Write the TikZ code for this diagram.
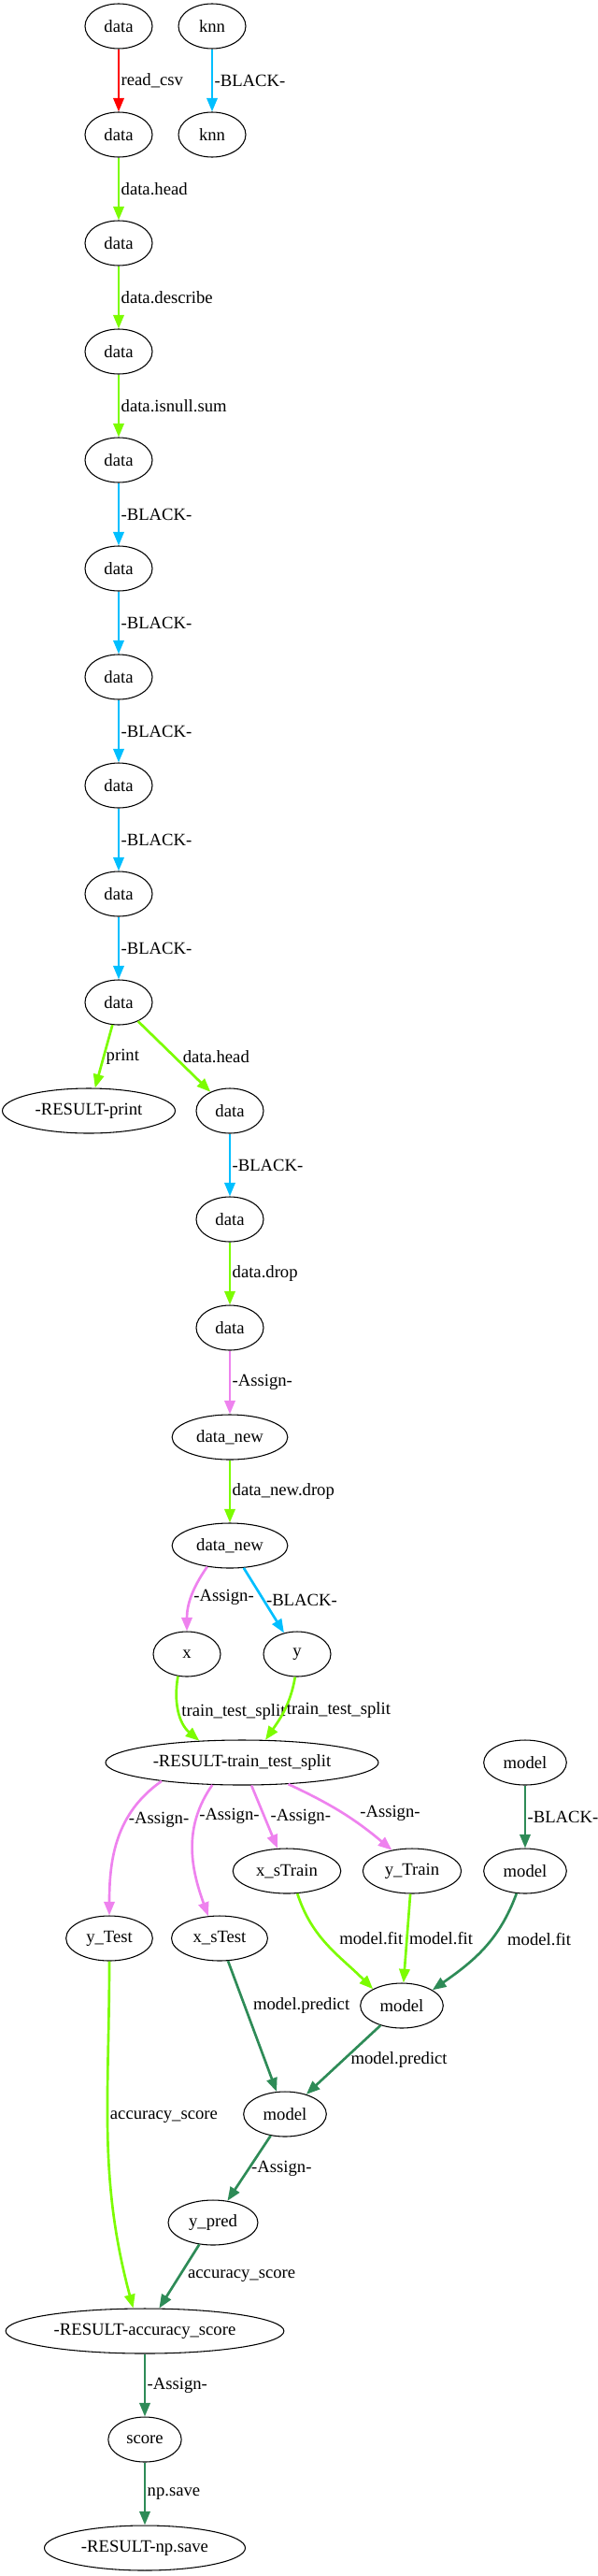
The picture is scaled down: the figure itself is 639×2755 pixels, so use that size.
\documentclass[tikz,border=0pt]{standalone}
\usepackage{fontspec}
\setmainfont{Liberation Serif}
\usetikzlibrary{arrows.meta,shapes.geometric}
\definecolor{readcol}{RGB}{255,0,0}
\definecolor{blackcol}{RGB}{0,191,255}
\definecolor{callcol}{RGB}{124,252,0}
\definecolor{assigncol}{RGB}{238,130,238}
\definecolor{modelcol}{RGB}{46,139,87}

\begin{document}
\begin{tikzpicture}[x=0.75pt, y=-0.75pt,
    every node/.style={font=\fontsize{14}{16}\selectfont},
    varnode/.style={draw, ellipse, line width=0.8pt, minimum width=54pt,
                    minimum height=36pt, inner xsep=6pt, inner ysep=0pt},
    flow/.style={line width=2pt, -{Triangle[length=11pt,width=8.5pt]}},
    lbl/.style={anchor=west, inner sep=1pt, text=black}]
  \useasboundingbox (0,0) rectangle (639,2755);

  \node[varnode] (d0) at (127,28) {data};
  \node[varnode] (k0) at (227,28) {knn};
  \node[varnode] (d1) at (127,144) {data};
  \node[varnode] (k1) at (227,144) {knn};
  \node[varnode] (d2) at (127,260) {data};
  \node[varnode] (d3) at (127,376) {data};
  \node[varnode] (d4) at (127,492) {data};
  \node[varnode] (d5) at (127,608) {data};
  \node[varnode] (d6) at (127,724) {data};
  \node[varnode] (d7) at (127,840) {data};
  \node[varnode] (d8) at (127,956) {data};
  \node[varnode] (d9) at (127,1072) {data};
  \node[varnode] (rprint) at (95,1188) {-RESULT-print};
  \node[varnode] (d10) at (246,1188) {data};
  \node[varnode] (d11) at (246,1304) {data};
  \node[varnode] (d12) at (246,1420) {data};
  \node[varnode] (dn0) at (246,1537) {data\_new};
  \node[varnode] (dn1) at (246,1653) {data\_new};
  \node[varnode] (nx) at (200,1769) {x};
  \node[varnode] (ny) at (318,1769) {y};
  \node[varnode] (rtts) at (259,1885) {-RESULT-train\_test\_split};
  \node[varnode] (m0) at (562,1885) {model};
  \node[varnode] (xstr) at (307,2001) {x\_sTrain};
  \node[varnode] (ytr) at (441,2001) {y\_Train};
  \node[varnode] (m1) at (562,2001) {model};
  \node[varnode] (ytest) at (117,2073) {y\_Test};
  \node[varnode] (xstest) at (235,2073) {x\_sTest};
  \node[varnode] (m2) at (430,2145) {model};
  \node[varnode] (m3) at (305,2261) {model};
  \node[varnode] (ypred) at (228,2377) {y\_pred};
  \node[varnode] (racc) at (155,2493) {-RESULT-accuracy\_score};
  \node[varnode] (score) at (155,2609) {score};
  \node[varnode] (rsave) at (155,2725) {-RESULT-np.save};

  \draw[flow, readcol] (d0) -- node[lbl] {read\_csv} (d1);
  \draw[flow, blackcol] (k0) -- node[lbl] {-BLACK-} (k1);
  \draw[flow, callcol] (d1) -- node[lbl] {data.head} (d2);
  \draw[flow, callcol] (d2) -- node[lbl] {data.describe} (d3);
  \draw[flow, callcol] (d3) -- node[lbl] {data.isnull.sum} (d4);
  \draw[flow, blackcol] (d4) -- node[lbl] {-BLACK-} (d5);
  \draw[flow, blackcol] (d5) -- node[lbl] {-BLACK-} (d6);
  \draw[flow, blackcol] (d6) -- node[lbl] {-BLACK-} (d7);
  \draw[flow, blackcol] (d7) -- node[lbl] {-BLACK-} (d8);
  \draw[flow, blackcol] (d8) -- node[lbl] {-BLACK-} (d9);
  \draw[flow, callcol] (d9) -- node[lbl] {print} (rprint);
  \draw[flow, callcol] (d9) -- node[lbl, xshift=5pt] {data.head} (d10);
  \draw[flow, blackcol] (d10) -- node[lbl] {-BLACK-} (d11);
  \draw[flow, callcol] (d11) -- node[lbl] {data.drop} (d12);
  \draw[flow, assigncol] (d12) -- node[lbl] {-Assign-} (dn0);
  \draw[flow, callcol] (dn0) -- node[lbl] {data\_new.drop} (dn1);
  \draw[flow, assigncol] (dn1.-137) to[out=-125, in=90] node[lbl] {-Assign-} (nx);
  \draw[flow, blackcol] (dn1) -- node[lbl] {-BLACK-} (ny);
  \draw[flow, callcol] (nx.-112) to[out=-100, in=140] node[lbl] {train\_test\_split} (rtts.153);
  \draw[flow, callcol] (ny.-95) to[out=-100, in=55] node[lbl] {train\_test\_split} (rtts.44);
  \draw[flow, assigncol] (rtts.-167) to[out=-145, in=90] node[lbl, pos=0.35] {-Assign-} (ytest);
  \draw[flow, assigncol] (rtts.-143) to[out=-125, in=110] node[lbl, pos=0.25] {-Assign-} (xstest.117);
  \draw[flow, assigncol] (rtts) -- node[lbl, xshift=3pt] {-Assign-} (xstr);
  \draw[flow, assigncol] (rtts.-25) to[out=-25, in=140] node[lbl, xshift=12pt] {-Assign-} (ytr.134);
  \draw[flow, modelcol] (m0) -- node[lbl] {-BLACK-} (m1);
  \draw[flow, callcol] (xstr.-65) to[out=-72, in=135] node[lbl, pos=0.42, xshift=12pt] {model.fit} (m2.150);
  \draw[flow, callcol] (ytr) -- node[lbl] {model.fit} (m2);
  \draw[flow, modelcol] (m1.-111) to[out=-110, in=35] node[lbl, pos=0.4, xshift=11pt] {model.fit} (m2.27);
  \draw[flow, modelcol] (xstest) -- node[lbl, pos=0.34, xshift=5pt] {model.predict} (m3);
  \draw[flow, modelcol] (m2) -- node[lbl, xshift=4pt] {model.predict} (m3);
  \draw[flow, callcol] (ytest) to[out=-90, in=105] node[lbl, pos=0.44] {accuracy\_score} (racc.117);
  \draw[flow, modelcol] (m3) -- node[lbl] {-Assign-} (ypred);
  \draw[flow, modelcol] (ypred) -- node[lbl, xshift=5pt] {accuracy\_score} (racc);
  \draw[flow, modelcol] (racc) -- node[lbl] {-Assign-} (score);
  \draw[flow, modelcol] (score) -- node[lbl] {np.save} (rsave);
\end{tikzpicture}
\end{document}
